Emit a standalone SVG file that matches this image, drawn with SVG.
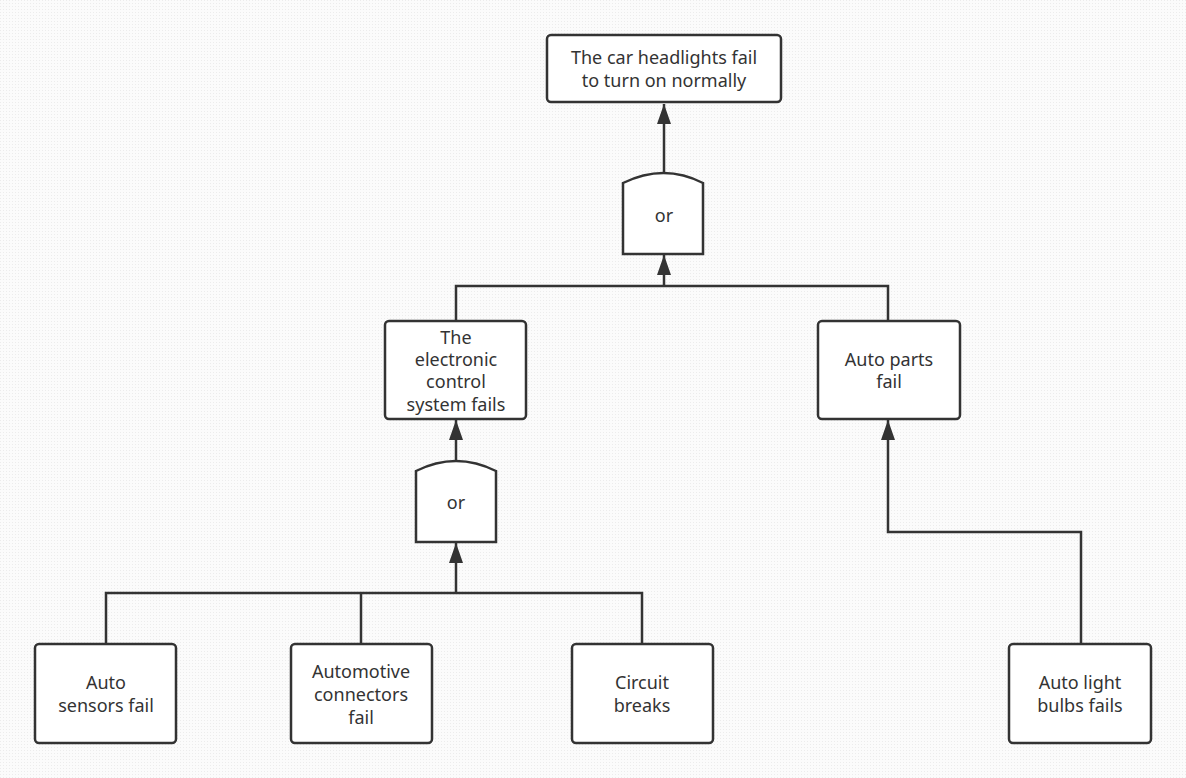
<svg xmlns="http://www.w3.org/2000/svg" width="1186" height="778" viewBox="0 0 1186 778">
<defs>
<pattern id="bg" width="3" height="3" patternUnits="userSpaceOnUse">
<rect width="3" height="3" fill="#fbfbfb"/>
<rect width="1" height="1" fill="#ececec"/>
</pattern>
<marker id="arr" viewBox="0 0 20 14" refX="20" refY="7" markerWidth="20" markerHeight="14" markerUnits="userSpaceOnUse" orient="auto">
<path d="M0,0 L20,7 L0,14 Z" fill="#333"/>
</marker>
</defs>
<style>
.box{fill:#fff;stroke:#333;stroke-width:2.5}
.gate{fill:#fff;stroke:#333;stroke-width:2.5}
.t{font-family:"Noto Sans","Open Sans",sans-serif;font-size:18px;fill:#333;text-anchor:middle;dominant-baseline:central}
.c{fill:none;stroke:#333;stroke-width:2.5}
</style>
<rect width="1186" height="778" fill="url(#bg)"/>
<g id="connectors">
<path class="c" d="M664,174 L664,104" marker-end="url(#arr)"/>
<path class="c" d="M456,321 L456,286 L888,286 L888,321"/>
<path class="c" d="M664,286 L664,255" marker-end="url(#arr)"/>
<path class="c" d="M456,462 L456,420" marker-end="url(#arr)"/>
<path class="c" d="M106,644 L106,593 L642,593 L642,644"/>
<path class="c" d="M361,593 L361,644"/>
<path class="c" d="M456,593 L456,543" marker-end="url(#arr)"/>
<path class="c" d="M1081,644 L1081,532 L888,532 L888,420" marker-end="url(#arr)"/>
</g>
<g id="top">
<rect class="box" x="547" y="35" width="234" height="67" rx="4"/>
<text class="t" x="664" y="57">The car headlights fail</text>
<text class="t" x="664" y="80">to turn on normally</text>
</g>
<g id="gate1">
<path class="gate" d="M623,254 L623,183 Q664,163 703,183 L703,254 Z"/>
<text class="t" x="664" y="215">or</text>
</g>
<g id="electronic">
<rect class="box" x="385" y="321" width="141" height="98" rx="4"/>
<text class="t" x="456" y="337">The</text>
<text class="t" x="456" y="359">electronic</text>
<text class="t" x="456" y="381">control</text>
<text class="t" x="456" y="404">system fails</text>
</g>
<g id="parts">
<rect class="box" x="818" y="321" width="142" height="98" rx="4"/>
<text class="t" x="889" y="359">Auto parts</text>
<text class="t" x="889" y="381">fail</text>
</g>
<g id="gate2">
<path class="gate" d="M416,542 L416,471 Q456,451 496,471 L496,542 Z"/>
<text class="t" x="456" y="502">or</text>
</g>
<g id="sensors">
<rect class="box" x="35" y="644" width="141" height="99" rx="4"/>
<text class="t" x="106" y="682">Auto</text>
<text class="t" x="106" y="705">sensors fail</text>
</g>
<g id="connectorsfail">
<rect class="box" x="291" y="644" width="141" height="99" rx="4"/>
<text class="t" x="361" y="671">Automotive</text>
<text class="t" x="361" y="694">connectors</text>
<text class="t" x="361" y="717">fail</text>
</g>
<g id="circuit">
<rect class="box" x="572" y="644" width="141" height="99" rx="4"/>
<text class="t" x="642" y="682">Circuit</text>
<text class="t" x="642" y="705">breaks</text>
</g>
<g id="bulbs">
<rect class="box" x="1009" y="644" width="142" height="99" rx="4"/>
<text class="t" x="1080" y="682">Auto light</text>
<text class="t" x="1080" y="705">bulbs fails</text>
</g>
</svg>
